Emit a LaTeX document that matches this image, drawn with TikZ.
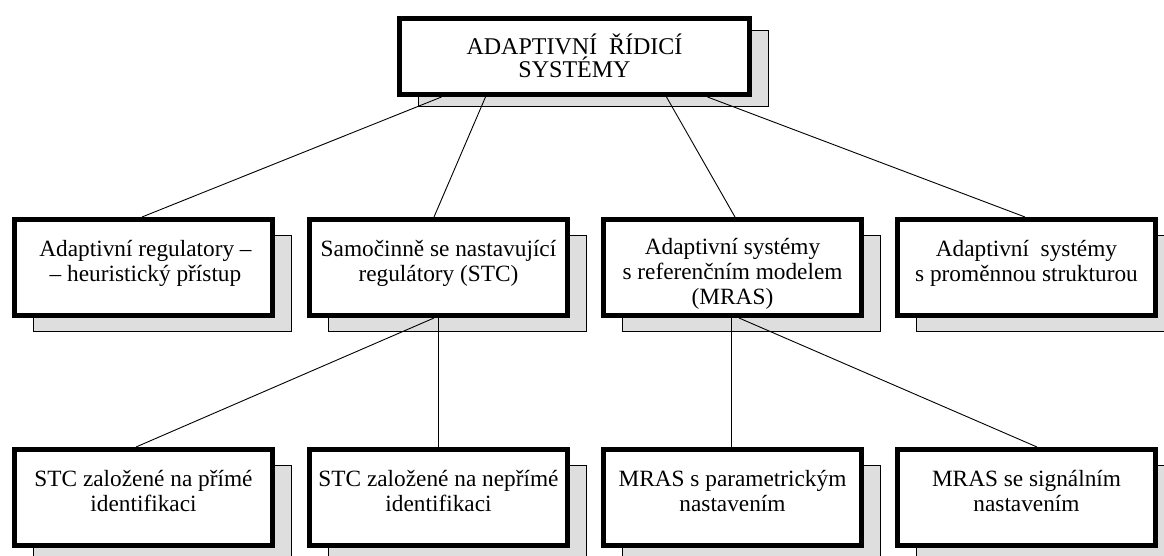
\documentclass[tikz,border=0pt]{standalone}
\usepackage{fontspec}
\setmainfont{Liberation Serif}
\usetikzlibrary{shadows,calc}
\definecolor{shadowgray}{HTML}{DEDEDE}
% invisible rules that fix the height and depth of a text block
\newcommand{\tophold}{\rule{0pt}{23pt}}
\newcommand{\bothold}{\rule[-6pt]{0pt}{6pt}}
\begin{document}
\begin{tikzpicture}[x=1pt,y=-1pt,
  boxbase/.style={draw=black, line width=5pt, fill=white, inner sep=0pt},
  boxnode/.style={boxbase, minimum width=258pt, minimum height=96pt,
    copy shadow={shadow xshift=19pt, shadow yshift=-16pt, fill=shadowgray, draw=black, line width=1.6pt}},
  topnode/.style={boxbase, minimum width=350pt, minimum height=76pt,
    copy shadow={shadow xshift=19pt, shadow yshift=-12pt, fill=shadowgray, draw=black, line width=1.6pt}},
  textnode/.style={font=\fontsize{23.3}{25}\selectfont, align=center, inner sep=0pt},
  toptext/.style={font=\fontsize{24}{22.5}\selectfont, align=center, inner sep=0pt},
  conn/.style={draw=black, line width=0.9pt}]
\useasboundingbox (0,0) rectangle (1164,556);
\clip (0,0) rectangle (1164,556);

% top level
\node[topnode] (top) at (574.5,56.5) {};
\node[toptext] (ttop) at ($(top.center)+(0,1)$) {\tophold ADAPTIVNÍ\ \ ŘÍDICÍ\\SYSTÉMY\bothold};

% second level
\node[boxnode] (m1) at (143.5,267.5) {};
\node[boxnode] (m2) at (438.5,267.5) {};
\node[boxnode] (m3) at (732.5,267.5) {};
\node[boxnode] (m4) at (1026.5,267.5) {};
\node[textnode] (tm1) at ($(m1.center)+(2,-3.5)$) {\strut Adaptivní regulatory –\\– heuristický přístup\strut};
\node[textnode] (tm2) at ($(m2.center)+(0,-3.5)$) {\strut Samočinně se nastavující\\regulátory (STC)\strut};
\node[textnode] (tm3) at ($(m3.center)+(0,6.5)$) {\strut Adaptivní systémy\\s referenčním modelem\\(MRAS)\strut};
\node[textnode] (tm4) at ($(m4.center)+(0,-3.5)$) {\strut Adaptivní\ \ systémy\\s proměnnou strukturou\strut};

% third level
\node[boxnode] (b1) at (143.5,497.5) {};
\node[boxnode] (b2) at (438.5,497.5) {};
\node[boxnode] (b3) at (732.5,497.5) {};
\node[boxnode] (b4) at (1026.5,497.5) {};
\node[textnode] (tb1) at ($(b1.center)+(0,-3.5)$) {\strut STC založené na přímé\\identifikaci\strut};
\node[textnode] (tb2) at ($(b2.center)+(0,-3.5)$) {\strut STC založené na nepřímé\\identifikaci\strut};
\node[textnode] (tb3) at ($(b3.center)+(0,-3.5)$) {\strut MRAS s parametrickým\\nastavením\strut};
\node[textnode] (tb4) at ($(b4.center)+(0,-3.5)$) {\strut MRAS se signálním\\nastavením\strut};

% connectors
\draw[conn] ($(top.south west)+(44.5,0)$) -- ($(m1.north)+(-1.5,0)$);
\draw[conn] ($(top.south west)+(88.5,0)$) -- ($(m2.north)+(-4.5,0)$);
\draw[conn] ($(top.south west)+(269.5,0)$) -- ($(m3.north)+(2.5,0)$);
\draw[conn] ($(top.south west)+(310.5,0)$) -- ($(m4.north)+(-1.5,0)$);
\draw[conn] ($(m2.south)+(-4.5,0)$) -- ($(b1.north)+(-7.5,0)$);
\draw[conn] (m2.south) -- (b2.north);
\draw[conn] ($(m3.south)+(-1.5,0)$) -- ($(b3.north)+(-1.5,0)$);
\draw[conn] ($(m3.south)+(6.5,0)$) -- ($(b4.north)+(10.5,0)$);
\end{tikzpicture}
\end{document}
